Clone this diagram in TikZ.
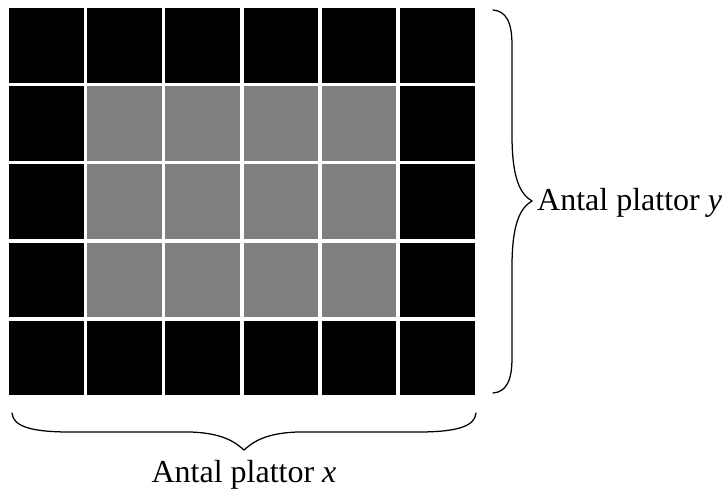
\documentclass[tikz,border=0pt]{standalone}
\usepackage{fontspec}
\setmainfont{Liberation Serif}
\usepackage{xcolor}
\usepackage{tikz}
\usetikzlibrary{positioning}

\definecolor{platgray}{RGB}{127,127,127}

\begin{document}
\begin{tikzpicture}[
    x=1pt, y=-1pt,
    plate/.style={rectangle, draw=none, inner sep=0pt, minimum size=74.5pt},
    brc/.style={draw, line width=1.25pt, line cap=round},
    lbl/.style={inner sep=0pt, font=\fontsize{32}{37}\selectfont}
  ]
    \useasboundingbox (0,0) rectangle (726,490);
    % plates
    \foreach \c in {0,...,5}{
      \foreach \r in {0,...,4}{
        \def\platecol{black}
        \ifnum\c>0 \ifnum\c<5 \ifnum\r>0 \ifnum\r<4 \def\platecol{platgray}\fi\fi\fi\fi
        \node[plate, fill=\platecol] (p\c\r) at ({46.25+78.2*\c}, {45.25+78.2*\r}) {};
      }
    }
    % braces
    \draw[brc] (493,10) .. controls (506,11) and (512,22) .. (512,45) -- (512,135)
      .. controls (512,178) and (520,194) .. (532,201)
      .. controls (520,208) and (512,224) .. (512,267) -- (512,358)
      .. controls (512,381) and (506,392) .. (493,393);
    \draw[brc] (12,413) .. controls (13,426) and (30,432) .. (70,432) -- (190,432)
      .. controls (224,433) and (236,443) .. (244,450)
      .. controls (252,443) and (264,433) .. (298,432) -- (418,432)
      .. controls (458,432) and (475,426) .. (476,413);
    % labels
    \node[lbl, anchor=base west] (ylbl) at (537,210) {Antal plattor \textit{y}};
    \node[lbl, anchor=base] (xlbl) at (244,482) {Antal plattor \textit{x}};
\end{tikzpicture}
\end{document}
